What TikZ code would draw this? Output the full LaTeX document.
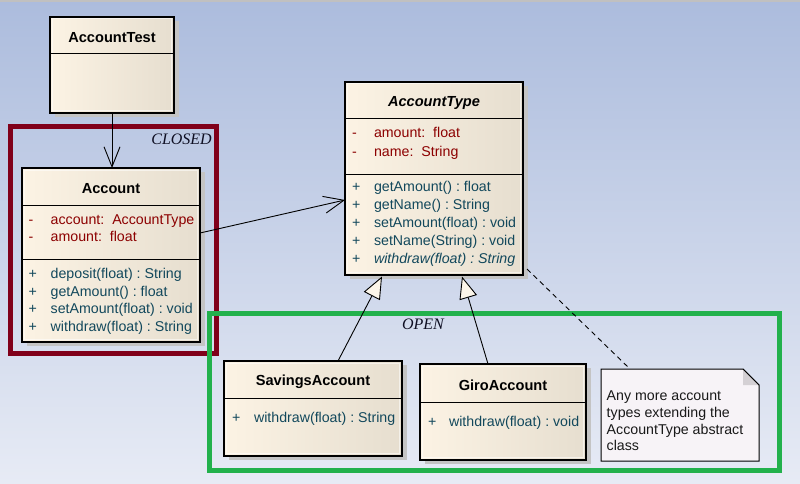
\documentclass[tikz,border=0pt]{standalone}
\usepackage{fontspec}
\setmainfont{Liberation Sans}
\newfontfamily\framelabelfont{Liberation Serif}
\usetikzlibrary{arrows.meta,shadows,calc}

\definecolor{bgtop}{RGB}{172,188,221}
\definecolor{bgbot}{RGB}{231,235,245}
\definecolor{topbar}{RGB}{192,192,192}
\definecolor{creamL}{RGB}{252,243,228}
\definecolor{creamR}{RGB}{230,222,207}
\definecolor{shadowgray}{RGB}{196,196,196}
\definecolor{attrred}{RGB}{140,0,0}
\definecolor{opteal}{RGB}{18,72,92}
\definecolor{closedred}{RGB}{128,0,26}
\definecolor{opengreen}{RGB}{34,177,76}
\definecolor{notefill}{RGB}{247,243,247}
\definecolor{foldgray}{RGB}{212,208,212}
\definecolor{labelink}{RGB}{15,15,35}
\definecolor{trifill}{RGB}{252,246,234}

\frenchspacing

\begin{document}
\begin{tikzpicture}[x=1pt,y=-1pt,
  classbox/.style={draw=black, line width=1.3pt, left color=creamL, right color=creamR,
    general shadow={fill=shadowgray, shadow xshift=5pt, shadow yshift=-4pt},
    anchor=north west, inner sep=0pt, outer sep=0pt},
  highlight/.style={draw=white, line width=1pt, opacity=0.55},
  divider/.style={draw=black, line width=1pt},
  title/.style={anchor=base, inner sep=0pt, font=\fontsize{14.6}{16}\selectfont\bfseries},
  attr/.style={anchor=base west, inner sep=0pt, text=attrred, font=\fontsize{14.2}{16}\selectfont},
  oper/.style={anchor=base west, inner sep=0pt, text=opteal, font=\fontsize{14.2}{16}\selectfont},
  framelabel/.style={inner sep=0pt, text=labelink, font=\fontsize{16}{18}\selectfont\framelabelfont\itshape},
  regionframe/.style={line width=5pt},
  dependency/.style={draw=black, line width=0.9pt, -{Straight Barb[length=20pt,width=16pt]}},
  association/.style={draw=black, line width=0.9pt, -{Straight Barb[length=20pt,width=17pt]}},
  generalization/.style={draw=black, line width=0.9pt, -{Triangle[length=22pt,width=18pt,fill=trifill]}},
  notelink/.style={draw=black, line width=0.9pt, dash pattern=on 5pt off 4pt},
  notetext/.style={anchor=north west, inner sep=0pt, align=left, text=black!90,
    font=\fontsize{14.2}{16.6}\selectfont}
]
\useasboundingbox (0,0) rectangle (800,484);

% backdrop
\shade[top color=bgtop, bottom color=bgbot] (0,0) rectangle (800,484);
\fill[topbar] (0,0) rectangle (800,2.5);

% region frames
\draw[regionframe, draw=closedred] (10.5,126.5) rectangle (216,353);
\draw[regionframe, draw=opengreen] (209.5,313) rectangle (779,470.5);
\node[framelabel, anchor=base east] (closedlbl) at (212,145) {CLOSED};
\node[framelabel, anchor=base] (openlbl) at (423,329) {OPEN};

% class boxes
\node[classbox, minimum width=124pt, minimum height=96pt]  (test)    at (50,17)  {};
\node[classbox, minimum width=178pt, minimum height=174pt] (account) at (22,168) {};
\node[classbox, minimum width=178pt, minimum height=193pt] (type)    at (345,82) {};
\node[classbox, minimum width=178pt, minimum height=95pt]  (savings) at (224,361) {};
\node[classbox, minimum width=166pt, minimum height=96pt]  (giro)    at (420,364) {};

\foreach \n in {test,account,type,savings,giro}
  \draw[highlight] ([shift={(2,2)}]\n.north west) rectangle ([shift={(-2.5,-2.5)}]\n.south east);

% compartments
\draw[divider] (test.west |- 0,54) -- (test.east |- 0,54);
\draw[divider] (account.west |- 0,205) -- (account.east |- 0,205);
\draw[divider] (account.west |- 0,259) -- (account.east |- 0,259);
\draw[divider] (type.west |- 0,119) -- (type.east |- 0,119);
\draw[divider] (type.west |- 0,174) -- (type.east |- 0,174);
\draw[divider] (savings.west |- 0,398) -- (savings.east |- 0,398);
\draw[divider] (giro.west |- 0,402) -- (giro.east |- 0,402);

% AccountTest
\node[title] (test-name) at (112,42.5) {AccountTest};

% Account
\node[title] (account-name) at (111,193) {Account};
\node[attr] (a-v1) at (28.5,224)   {-};
\node[attr] (a-a1) at (50.5,224)   {account:\ \ AccountType};
\node[attr] (a-v2) at (28.5,241.7) {-};
\node[attr] (a-a2) at (50.5,241.7) {amount:\ \ float};
\node[oper] (a-p1) at (28.5,278.3) {+};
\node[oper] (a-o1) at (50.5,278.3) {deposit(float) : String};
\node[oper] (a-p2) at (28.5,296)   {+};
\node[oper] (a-o2) at (50.5,296)   {getAmount() : float};
\node[oper] (a-p3) at (28.5,313.5) {+};
\node[oper] (a-o3) at (50.5,313.5) {setAmount(float) : void};
\node[oper] (a-p4) at (28.5,331)   {+};
\node[oper] (a-o4) at (50.5,331)   {withdraw(float) : String};

% AccountType (abstract)
\node[title, font=\fontsize{14.6}{16}\selectfont\bfseries\itshape] (type-name) at (434,106.7) {AccountType};
\node[attr] (t-v1) at (351.8,137.7) {-};
\node[attr] (t-a1) at (373.8,137.7) {amount:\ \ float};
\node[attr] (t-v2) at (351.8,156)   {-};
\node[attr] (t-a2) at (373.8,156)   {name:\ \ String};
\node[oper] (t-p1) at (351.8,191.7) {+};
\node[oper] (t-o1) at (373.8,191.7) {getAmount() : float};
\node[oper] (t-p2) at (351.8,209.5) {+};
\node[oper] (t-o2) at (373.8,209.5) {getName() : String};
\node[oper] (t-p3) at (351.8,227.4) {+};
\node[oper] (t-o3) at (373.8,227.4) {setAmount(float) : void};
\node[oper] (t-p4) at (351.8,245.5) {+};
\node[oper] (t-o4) at (373.8,245.5) {setName(String) : void};
\node[oper] (t-p5) at (351.8,263.3) {+};
\node[oper, font=\fontsize{14.2}{16}\selectfont\itshape] (t-o5) at (373.8,263.3) {withdraw(float) : String};

% SavingsAccount
\node[title] (savings-name) at (313,385.7) {SavingsAccount};
\node[oper] (s-p1) at (231.8,422.7) {+};
\node[oper] (s-o1) at (253.8,422.7) {withdraw(float) : String};

% GiroAccount
\node[title] (giro-name) at (503,390) {GiroAccount};
\node[oper] (g-p1) at (427.8,426) {+};
\node[oper] (g-o1) at (448.8,426) {withdraw(float) : void};

% note with folded corner
\node[minimum width=158pt, minimum height=92pt, anchor=north west, inner sep=0pt, outer sep=0pt] (note) at (601,369) {};
\filldraw[fill=notefill, draw=black, line width=1pt]
  (note.north west) -- ($(note.north east)+(-16,0)$) -- ($(note.north east)+(0,16)$)
  -- (note.south east) -- (note.south west) -- cycle;
\fill[foldgray] ($(note.north east)+(-16,0)$) -- ($(note.north east)+(-16,16)$) -- ($(note.north east)+(0,16)$) -- cycle;
\draw[black, line width=1pt] ($(note.north east)+(-16,0)$) -- ($(note.north east)+(0,16)$);
\node[notetext] (note-text) at (606.5,391) {Any more account\\types extending the\\AccountType abstract\\class};

% connectors
\draw[dependency] (test.south) -- (test.south |- account.north);
\draw[association] (account.east |- 0,233) -- (type.west |- 0,200);
\draw[generalization] ($(savings.north west)+(114,0)$) -- ($(type.south west)+(37,1.5)$);
\draw[generalization] ($(giro.north west)+(68,0)$) -- ($(type.south west)+(117,1.5)$);
\draw[notelink] ($(type.south east)+(4,-6)$) -- ($(note.north west)+(29,0)$);
\end{tikzpicture}
\end{document}
